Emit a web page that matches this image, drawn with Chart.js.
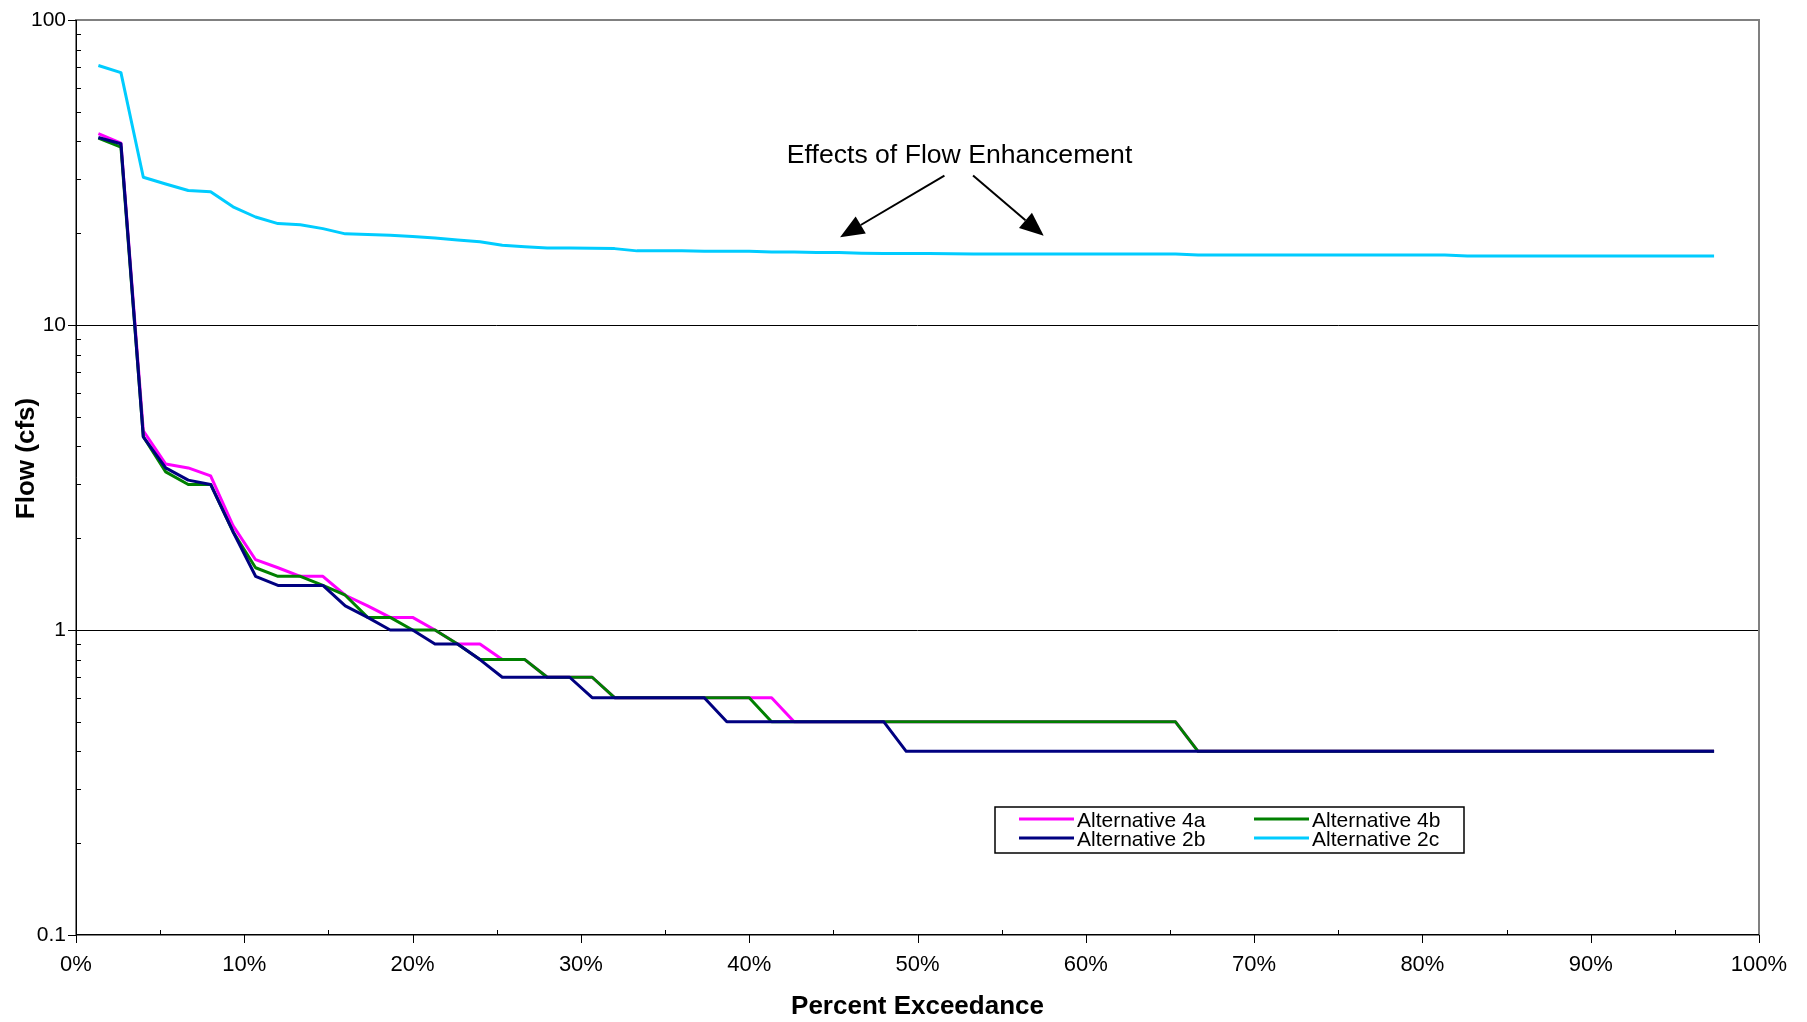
<!DOCTYPE html>
<html>
<head>
<meta charset="utf-8">
<title>Flow duration</title>
<script src="https://cdn.jsdelivr.net/npm/chart.js@4.4.1/dist/chart.umd.min.js"></script>
<style>
  html, body { margin: 0; padding: 0; background: #fff; }
  #wrap { width: 1807px; height: 1022px; position: relative; }
</style>
</head>
<body>
<div id="wrap"><canvas id="chart"></canvas></div>
<script>
// percent of time each ranked flow is exceeded
const exceedance = [
  1.33, 2.67, 4.00, 5.33, 6.67, 8.00, 9.33, 10.67, 12.00, 13.33,
  14.67, 16.00, 17.33, 18.67, 20.00, 21.33, 22.67, 24.00, 25.33, 26.67,
  28.00, 29.33, 30.67, 32.00, 33.33, 34.67, 36.00, 37.33, 38.67, 40.00,
  41.33, 42.67, 44.00, 45.33, 46.67, 48.00, 49.33, 50.67, 52.00, 53.33,
  54.67, 56.00, 57.33, 58.67, 60.00, 61.33, 62.67, 64.00, 65.33, 66.67,
  68.00, 69.33, 70.67, 72.00, 73.33, 74.67, 76.00, 77.33, 78.67, 80.00,
  81.33, 82.67, 84.00, 85.33, 86.67, 88.00, 89.33, 90.67, 92.00, 93.33,
  94.67, 96.00, 97.33
];

// flow (cfs)
const alt4a = [
  42.4, 39.5, 4.5, 3.5, 3.4, 3.2, 2.2, 1.7, 1.6, 1.5,
  1.5, 1.3, 1.2, 1.1, 1.1, 1.0, 0.9, 0.9, 0.8, 0.8,
  0.7, 0.7, 0.7, 0.6, 0.6, 0.6, 0.6, 0.6, 0.6, 0.6,
  0.6, 0.5, 0.5, 0.5, 0.5, 0.5, 0.5, 0.5, 0.5, 0.5,
  0.5, 0.5, 0.5, 0.5, 0.5, 0.5, 0.5, 0.5, 0.5, 0.4,
  0.4, 0.4, 0.4, 0.4, 0.4, 0.4, 0.4, 0.4, 0.4, 0.4,
  0.4, 0.4, 0.4, 0.4, 0.4, 0.4, 0.4, 0.4, 0.4, 0.4,
  0.4, 0.4, 0.4
];
const alt4b = [
  41.0, 38.3, 4.3, 3.3, 3.0, 3.0, 2.1, 1.6, 1.5, 1.5,
  1.4, 1.3, 1.1, 1.1, 1.0, 1.0, 0.9, 0.8, 0.8, 0.8,
  0.7, 0.7, 0.7, 0.6, 0.6, 0.6, 0.6, 0.6, 0.6, 0.6,
  0.5, 0.5, 0.5, 0.5, 0.5, 0.5, 0.5, 0.5, 0.5, 0.5,
  0.5, 0.5, 0.5, 0.5, 0.5, 0.5, 0.5, 0.5, 0.5, 0.4,
  0.4, 0.4, 0.4, 0.4, 0.4, 0.4, 0.4, 0.4, 0.4, 0.4,
  0.4, 0.4, 0.4, 0.4, 0.4, 0.4, 0.4, 0.4, 0.4, 0.4,
  0.4, 0.4, 0.4
];
const alt2b = [
  41.2, 39.3, 4.3, 3.4, 3.1, 3.0, 2.1, 1.5, 1.4, 1.4,
  1.4, 1.2, 1.1, 1.0, 1.0, 0.9, 0.9, 0.8, 0.7, 0.7,
  0.7, 0.7, 0.6, 0.6, 0.6, 0.6, 0.6, 0.6, 0.5, 0.5,
  0.5, 0.5, 0.5, 0.5, 0.5, 0.5, 0.4, 0.4, 0.4, 0.4,
  0.4, 0.4, 0.4, 0.4, 0.4, 0.4, 0.4, 0.4, 0.4, 0.4,
  0.4, 0.4, 0.4, 0.4, 0.4, 0.4, 0.4, 0.4, 0.4, 0.4,
  0.4, 0.4, 0.4, 0.4, 0.4, 0.4, 0.4, 0.4, 0.4, 0.4,
  0.4, 0.4, 0.4
];
const alt2c = [
  70.9, 67.2, 30.5, 29.0, 27.6, 27.35, 24.4, 22.6, 21.5, 21.3,
  20.7, 19.9, 19.8, 19.7, 19.5, 19.3, 19.0, 18.75, 18.25, 18.05,
  17.9, 17.9, 17.85, 17.8, 17.5, 17.5, 17.5, 17.45, 17.45, 17.45,
  17.35, 17.35, 17.3, 17.3, 17.2, 17.15, 17.15, 17.15, 17.13, 17.1,
  17.1, 17.1, 17.1, 17.1, 17.1, 17.1, 17.1, 17.1, 17.1, 16.95,
  16.95, 16.95, 16.95, 16.95, 16.95, 16.95, 16.95, 16.95, 16.95, 16.95,
  16.95, 16.85, 16.85, 16.85, 16.85, 16.85, 16.85, 16.85, 16.85, 16.85,
  16.85, 16.85, 16.85
];

const seriesNames = ['Alternative 4a', 'Alternative 4b', 'Alternative 2b', 'Alternative 2c'];
const seriesColors = ['#FF00FF', '#008000', '#000080', '#00CCFF'];
const seriesFlows = [alt4a, alt4b, alt2b, alt2c];
const drawOrder = [3, 2, 1, 0]; // lower = drawn on top

const xTickValues = [0, 10, 20, 30, 40, 50, 60, 70, 80, 90, 100];
const yTickValues = [0.1, 1, 10, 100];

const yTitle = 'Flow (cfs)';
const noteText = 'Effects of Flow Enhancement';

const fontFamily = '"Liberation Sans", Arial, sans-serif';
Chart.defaults.font.family = fontFamily;
Chart.defaults.color = '#000';

// plot frame, tick marks, y title, note with arrows and the boxed legend
const extras = {
  id: 'extras',
  beforeDatasetsDraw(chart) {
    const { ctx, chartArea: a, scales: { x, y } } = chart;
    ctx.save();
    ctx.strokeStyle = '#808080';
    ctx.lineWidth = 2;
    ctx.strokeRect(a.left, a.top, a.right - a.left, a.bottom - a.top);

    ctx.strokeStyle = '#000';
    ctx.lineWidth = 1;
    ctx.beginPath();
    ctx.moveTo(a.left + 0.5, a.top);
    ctx.lineTo(a.left + 0.5, a.bottom);
    ctx.moveTo(a.left, a.bottom - 0.5);
    ctx.lineTo(a.right, a.bottom - 0.5);

    yTickValues.forEach((v, k) => {
      const py = Math.round(y.getPixelForValue(v)) + 0.5;
      ctx.moveTo(a.left - 8, py);
      ctx.lineTo(a.left, py);
      if (k < yTickValues.length - 1) {
        for (let m = 2; m <= 9; m++) {
          const my = Math.round(y.getPixelForValue(v * m)) + 0.5;
          ctx.moveTo(a.left, my);
          ctx.lineTo(a.left + 5, my);
        }
      }
    });
    xTickValues.forEach((v, k) => {
      const px = Math.round(x.getPixelForValue(v)) + 0.5;
      ctx.moveTo(px, a.bottom);
      ctx.lineTo(px, a.bottom + 8);
      if (k < xTickValues.length - 1) {
        const mx = Math.round(x.getPixelForValue(v + 5)) + 0.5;
        ctx.moveTo(mx, a.bottom);
        ctx.lineTo(mx, a.bottom - 5);
      }
    });
    ctx.stroke();

    // y axis title, sits a little above the middle of the plot
    ctx.fillStyle = '#000';
    ctx.font = 'bold 26px ' + fontFamily;
    ctx.textAlign = 'center';
    ctx.textBaseline = 'middle';
    ctx.translate(27, (a.top + a.bottom) / 2 - 19);
    ctx.rotate(-Math.PI / 2);
    ctx.fillText(yTitle, 0, 0);
    ctx.restore();
  },
  afterDatasetsDraw(chart) {
    const { ctx, scales: { x, y } } = chart;
    ctx.save();

    // note
    ctx.fillStyle = '#000';
    ctx.font = '26.6px ' + fontFamily;
    ctx.textAlign = 'center';
    ctx.textBaseline = 'middle';
    ctx.fillText(noteText, x.getPixelForValue(52.5), y.getPixelForValue(36));

    const arrows = [[51.6, 30.9, 45.4, 19.4], [53.3, 30.9, 57.5, 19.6]];
    arrows.forEach(([x0, y0, x1, y1]) => {
      const ax = x.getPixelForValue(x0), ay = y.getPixelForValue(y0);
      const bx = x.getPixelForValue(x1), by = y.getPixelForValue(y1);
      const ang = Math.atan2(by - ay, bx - ax);
      const len = 24, half = 10;
      const cx = bx - len * Math.cos(ang), cy = by - len * Math.sin(ang);
      ctx.strokeStyle = '#000';
      ctx.lineWidth = 2;
      ctx.beginPath();
      ctx.moveTo(ax, ay);
      ctx.lineTo(cx, cy);
      ctx.stroke();
      ctx.beginPath();
      ctx.moveTo(bx, by);
      ctx.lineTo(cx + half * Math.sin(ang), cy - half * Math.cos(ang));
      ctx.lineTo(cx - half * Math.sin(ang), cy + half * Math.cos(ang));
      ctx.closePath();
      ctx.fill();
    });

    // legend box
    const box = { left: 995, top: 807, width: 469, height: 46 };
    ctx.fillStyle = '#fff';
    ctx.fillRect(box.left, box.top, box.width, box.height);
    ctx.strokeStyle = '#000';
    ctx.lineWidth = 1.5;
    ctx.strokeRect(box.left, box.top, box.width, box.height);

    const cols = [1019, 1254];
    const rows = [819, 838];
    ctx.font = '21px ' + fontFamily;
    ctx.textAlign = 'left';
    seriesNames.forEach((name, k) => {
      const cx = cols[k % 2], cy = rows[Math.floor(k / 2)];
      ctx.strokeStyle = seriesColors[k];
      ctx.lineWidth = 3;
      ctx.beginPath();
      ctx.moveTo(cx, cy);
      ctx.lineTo(cx + 55, cy);
      ctx.stroke();
      ctx.fillStyle = '#000';
      ctx.fillText(name, cx + 58, cy + 2);
    });
    ctx.restore();
  }
};

new Chart(document.getElementById('chart'), {
  type: 'line',
  data: {
    datasets: seriesNames.map((name, k) => ({
      label: name,
      data: exceedance.map((p, i) => ({ x: p, y: seriesFlows[k][i] })),
      borderColor: seriesColors[k],
      backgroundColor: seriesColors[k],
      borderWidth: 3,
      borderJoinStyle: 'round',
      pointRadius: 0,
      tension: 0,
      fill: false,
      order: drawOrder[k]
    }))
  },
  options: {
    responsive: true,
    maintainAspectRatio: false,
    animation: false,
    layout: { padding: { top: 20, right: 48, bottom: 0, left: 0 } },
    plugins: {
      legend: { display: false },
      tooltip: { enabled: false }
    },
    scales: {
      x: {
        type: 'linear',
        min: 0,
        max: 100,
        afterBuildTicks: s => { s.ticks = xTickValues.map(v => ({ value: v })); },
        afterFit: s => { s.height = 87; s.paddingLeft = 0; s.paddingRight = 0; },
        grid: { display: false, drawTicks: false },
        border: { display: false },
        ticks: {
          padding: 17,
          autoSkip: false,
          maxRotation: 0,
          font: { size: 22 },
          callback: v => v + '%'
        },
        title: {
          display: true,
          text: 'Percent Exceedance',
          font: { size: 26, weight: 'bold' },
          padding: 0
        }
      },
      y: {
        type: 'logarithmic',
        min: 0.1,
        max: 100,
        afterBuildTicks: s => { s.ticks = yTickValues.map(v => ({ value: v })); },
        afterFit: s => { s.width = 76; s.paddingTop = 0; s.paddingBottom = 0; },
        grid: {
          drawTicks: false,
          lineWidth: 1,
          color: c => (c.tick && (c.tick.value === 1 || c.tick.value === 10)) ? '#000' : 'rgba(0,0,0,0)'
        },
        border: { display: false },
        ticks: {
          padding: 10,
          autoSkip: false,
          font: { size: 21 },
          callback: v => String(v)
        },
        title: { display: false }
      }
    }
  },
  plugins: [extras]
});
</script>
</body>
</html>
